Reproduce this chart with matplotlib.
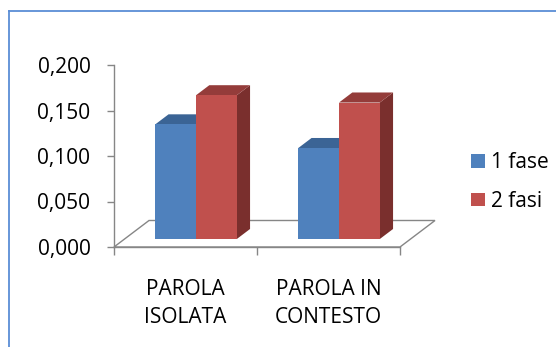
import matplotlib
matplotlib.use("Agg")
import matplotlib.pyplot as plt
from matplotlib.patches import Polygon, Patch
from matplotlib.lines import Line2D

plt.rcParams['font.family'] = ['Open Sans', 'DejaVu Sans']

# ---- data -------------------------------------------------------------
categories = ["PAROLA\nISOLATA", "PAROLA IN\nCONTESTO"]
series_names = ["1 fase", "2 fasi"]
fase_1 = [0.126, 0.100]
fasi_2 = [0.158, 0.150]
y_ticks = [0.000, 0.050, 0.100, 0.150, 0.200]
y_tick_labels = ["0,000", "0,050", "0,100", "0,150", "0,200"]

# ---- styling ----------------------------------------------------------
FRONT = ["#4F81BD", "#C0504D"]
TOP = ["#3B6495", "#943C3A"]
SIDE = ["#2F5079", "#7A2F2D"]
AXIS_GRAY = "#868686"
BORDER = "#5B8ED6"
FS = 15

W, H = 556, 347
fig = plt.figure(figsize=(W / 100, H / 100), dpi=100)
ax_left, ax_bottom, ax_w, ax_h = 114, 100, 286, 182   # pixels
ax = fig.add_axes([ax_left / W, ax_bottom / H, ax_w / W, ax_h / H])
ax.set_xlim(0, len(categories))
ax.set_ylim(0, 0.2)
ax.set_facecolor("none")

# oblique depth projection (full floor depth, in data units)
DEPTH_X = 35 / (ax_w / len(categories))
DEPTH_Y = 26.5 / (ax_h / 0.2)


def proj(x, y, d):
    return (x + d * DEPTH_X, y + d * DEPTH_Y)


# floor
floor = [proj(0, 0, 0), proj(2, 0, 0), proj(2, 0, 1), proj(0, 0, 1)]
ax.add_patch(Polygon(floor, closed=True, facecolor="white",
                     edgecolor=AXIS_GRAY, lw=1.0, clip_on=False, zorder=1))

# 3D columns
bar_w = 0.285
d0, d1 = 0.30, 0.68
series = [fase_1, fasi_2]
for ci in range(len(categories)):
    center = ci + 0.5
    for si, vals in enumerate(series):
        x0 = center - bar_w + si * bar_w
        x1 = x0 + bar_w
        v = vals[ci]
        front = [proj(x0, 0, d0), proj(x1, 0, d0), proj(x1, v, d0), proj(x0, v, d0)]
        top = [proj(x0, v, d0), proj(x1, v, d0), proj(x1, v, d1), proj(x0, v, d1)]
        side = [proj(x1, 0, d0), proj(x1, 0, d1), proj(x1, v, d1), proj(x1, v, d0)]
        z = 3 + ci * 3 + si
        ax.add_patch(Polygon(side, closed=True, facecolor=SIDE[si], lw=0,
                             clip_on=False, zorder=z))
        ax.add_patch(Polygon(top, closed=True, facecolor=TOP[si], lw=0,
                             clip_on=False, zorder=z))
        ax.add_patch(Polygon(front, closed=True, facecolor=FRONT[si], lw=0,
                             clip_on=False, zorder=z))

# axes
for s in ("top", "right"):
    ax.spines[s].set_visible(False)
for s in ("left", "bottom"):
    ax.spines[s].set_color(AXIS_GRAY)
    ax.spines[s].set_linewidth(1.0)

ax.set_yticks(y_ticks)
ax.set_yticklabels(y_tick_labels, fontsize=FS)
ax.tick_params(axis="y", direction="out", length=5.0, width=1.0,
               color=AXIS_GRAY, pad=12)

ax.set_xticks(range(len(categories) + 1))
ax.set_xticklabels([""] * (len(categories) + 1))
ax.tick_params(axis="x", which="major", direction="out", length=6.0,
               width=1.0, color=AXIS_GRAY)
ax.set_xticks([i + 0.5 for i in range(len(categories))], minor=True)
ax.set_xticklabels(categories, minor=True, fontsize=FS, linespacing=1.45)
ax.tick_params(axis="x", which="minor", length=0, pad=23)

# legend
handles = [Patch(facecolor=c, edgecolor="none") for c in FRONT]
fig.legend(handles, series_names, loc="center left",
           bbox_to_anchor=(471.5 / W, 1 - 182 / H), frameon=False,
           fontsize=FS, handlelength=0.64, handleheight=0.64,
           handletextpad=0.3, labelspacing=0.85, borderpad=0,
           borderaxespad=0)

# chart border
fig.add_artist(Line2D([9 / W, 9 / W], [0, 1 - 11 / H], color=BORDER,
                      lw=1.3, transform=fig.transFigure))
fig.add_artist(Line2D([9 / W, 1], [1 - 11 / H, 1 - 11 / H], color=BORDER,
                      lw=1.3, transform=fig.transFigure))

fig.savefig("out.png", dpi=100, facecolor="white")
